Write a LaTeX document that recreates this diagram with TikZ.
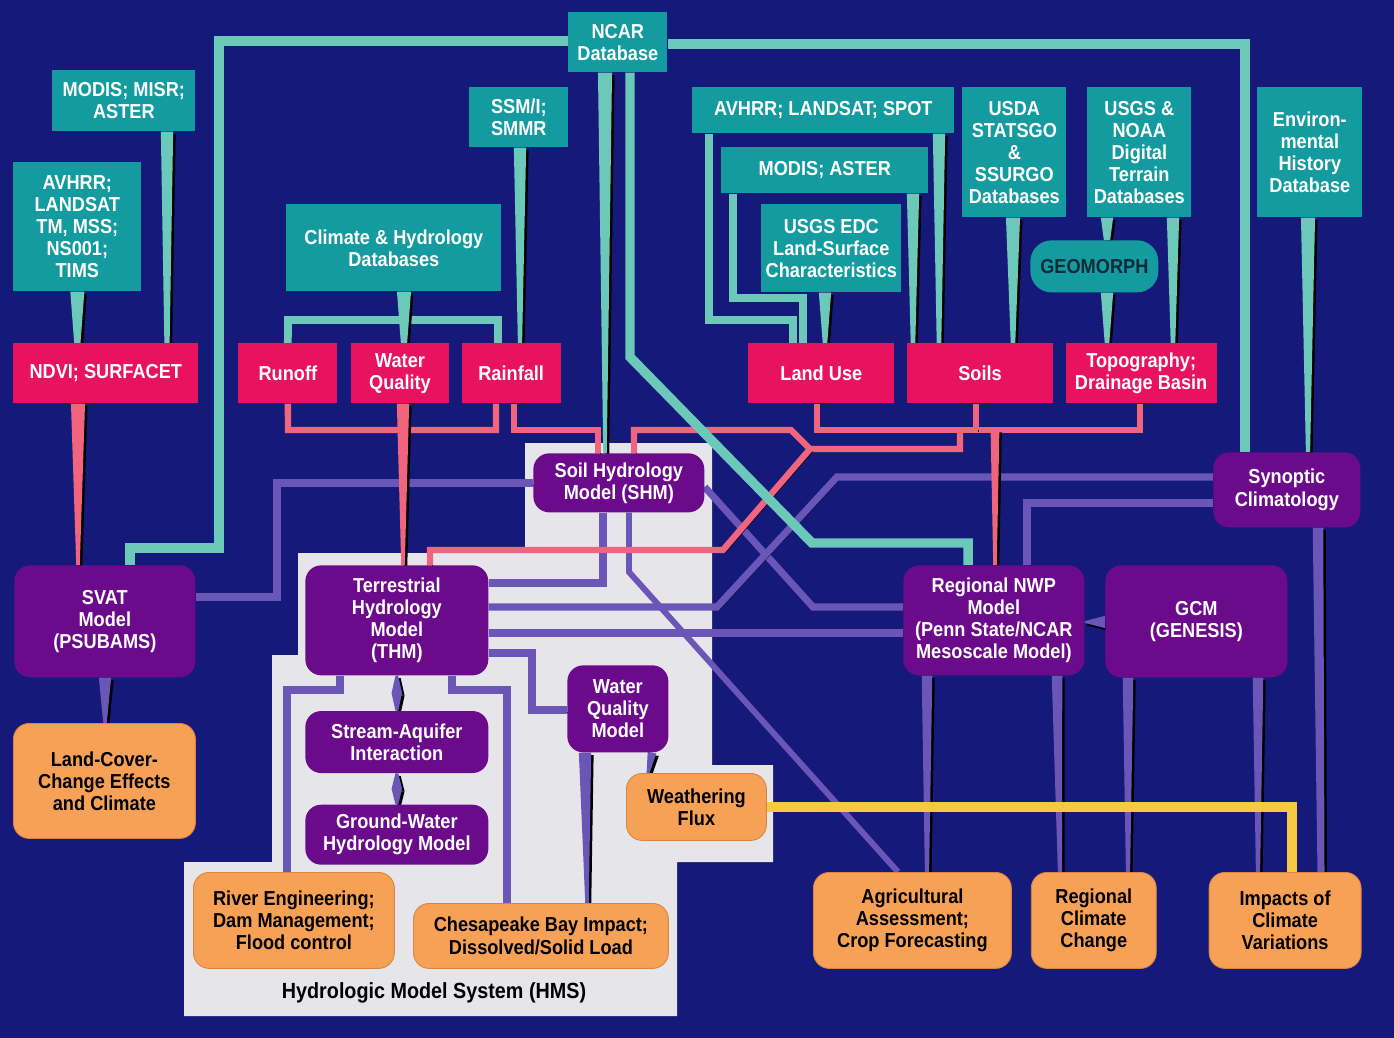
\documentclass[tikz,border=0pt]{standalone}
\usepackage{fontspec}
\setmainfont{Liberation Sans}[FakeStretch=0.9]
\usepackage{tikz}
\usetikzlibrary{
positioning,
calc
}
\definecolor{HMSNavy}{HTML}{151A7A}
\definecolor{HMSTeal}{HTML}{139BA0}
\definecolor{HMSTealLine}{HTML}{6CC8B8}
\definecolor{HMSPink}{HTML}{E8125E}
\definecolor{HMSPinkLine}{HTML}{F0647E}
\definecolor{HMSPurple}{HTML}{6C0A8C}
\definecolor{HMSPurpleLine}{HTML}{6A56B6}
\definecolor{HMSOrange}{HTML}{F7A156}
\definecolor{HMSOrangeEdge}{HTML}{D98440}
\definecolor{HMSYellow}{HTML}{F6C844}
\definecolor{HMSPanel}{HTML}{E6E6EA}
\definecolor{HMSGeoText}{HTML}{0B2A3A}
\newcommand{\hmsfont}{\bfseries\fontsize{11.5}{12.6}\selectfont}
\pgfdeclarelayer{panel}
\pgfdeclarelayer{wires}
\pgfsetlayers{panel,wires,main}
\tikzset{
hmsdata/.style={fill=HMSTeal, text=white, anchor=north west, align=center, inner sep=1pt, font=\hmsfont},
hmsfield/.style={fill=HMSPink, text=white, anchor=north west, align=center, inner sep=1pt,
  minimum height=1.2cm, font=\hmsfont},
hmsmodel/.style={fill=HMSPurple, text=white, anchor=north west, align=center, inner sep=1pt,
  rounded corners=9pt, font=\hmsfont},
hmsapp/.style={fill=HMSOrange, draw=HMSOrangeEdge, line width=0.5pt, text=black, anchor=north west,
  align=center, inner sep=1pt, rounded corners=9pt, font=\hmsfont},
hmswire/.style={line width=4pt, preaction={draw=black, transform canvas={xshift=1.4pt, yshift=-1.4pt}}},
purplewire/.style={hmswire, draw=HMSPurpleLine},
pinkwire/.style={hmswire, draw=HMSPinkLine, line width=3.6pt},
tealwire/.style={hmswire, draw=HMSTealLine, line width=4.4pt},
ncarwire/.style={hmswire, draw=HMSTealLine, line width=5.4pt},
yellowwire/.style={hmswire, draw=HMSYellow, line width=5.4pt}
}
% tapered connector: colour, start, end, half width at start, half width at end
\newcommand{\wirewedge}[5]{%
  \coordinate (wA) at #2;
  \coordinate (wB) at #3;
  \fill[#1, preaction={fill=black, transform canvas={xshift=1.4pt, yshift=-1.4pt}}]
    ($(wA)!#4!90:(wB)$) -- ($(wA)!#4!-90:(wB)$) -- ($(wB)!#5!90:(wA)$) -- ($(wB)!#5!-90:(wA)$) -- cycle;}

\begin{document}
\begin{tikzpicture}[x=0.02cm, y=-0.02cm]
\useasboundingbox (0,0) rectangle (1394,1038);

\node[hmsdata, minimum width=1.98cm, minimum height=1.2cm] (ncar) at (568,12) {NCAR\\Database};
\node[hmsdata, minimum width=2.86cm, minimum height=1.22cm] (modisA) at (52,70) {MODIS; MISR;\\ASTER};
\node[hmsdata, minimum width=2.56cm, minimum height=2.58cm] (avhrrA) at (13,162) {AVHRR;\\LANDSAT\\TM, MSS;\\NS001;\\TIMS};
\node[hmsdata, minimum width=1.98cm, minimum height=1.2cm] (ssmi) at (469,87) {SSM/I;\\SMMR};
\node[hmsdata, minimum width=4.3cm, minimum height=1.74cm] (climhyd) at (286,204) {Climate \& Hydrology\\Databases};
\node[hmsdata, minimum width=5.24cm, minimum height=0.92cm] (avhrrB) at (692,87) {AVHRR; LANDSAT; SPOT};
\node[hmsdata, minimum width=4.14cm, minimum height=0.92cm] (modisB) at (721,147) {MODIS; ASTER};
\node[hmsdata, minimum width=2.8cm, minimum height=1.76cm] (usgsedc) at (761,204) {USGS EDC\\Land-Surface\\Characteristics};
\node[hmsdata, minimum width=2.08cm, minimum height=2.6cm] (usda) at (962,87) {USDA\\STATSGO\\\&\\SSURGO\\Databases};
\node[hmsdata, minimum width=2.08cm, minimum height=2.6cm] (usgsnoaa) at (1087,87) {USGS \&\\NOAA\\Digital\\Terrain\\Databases};
\node[hmsdata, rounded corners=12pt, text=HMSGeoText, minimum width=2.56cm, minimum height=1.04cm] (geomorph) at (1030,240) {GEOMORPH};
\node[hmsdata, minimum width=2.1cm, minimum height=2.6cm] (envhist) at (1257,87) {Environ-\\mental\\History\\Database};

\node[hmsfield, minimum width=3.7cm] (ndvi) at (13,343) {NDVI; SURFACET};
\node[hmsfield, minimum width=1.98cm] (runoff) at (238,343) {Runoff};
\node[hmsfield, minimum width=1.96cm, right=0.26cm of runoff] (waterq) {Water\\Quality};
\node[hmsfield, minimum width=1.98cm, right=0.24cm of waterq] (rainfall) {Rainfall};
\node[hmsfield, minimum width=2.92cm] (landuse) at (748,343) {Land Use};
\node[hmsfield, minimum width=2.92cm, right=0.24cm of landuse] (soils) {Soils};
\node[hmsfield, minimum width=3.02cm, right=0.24cm of soils] (topo) {Topography;\\Drainage Basin};

\node[hmsmodel, minimum width=3.42cm, minimum height=1.18cm] (shm) at (533,453) {Soil Hydrology\\Model (SHM)};
\node[hmsmodel, minimum width=2.94cm, minimum height=1.5cm] (synoptic) at (1213,452) {Synoptic\\Climatology};
\node[hmsmodel, minimum width=3.62cm, minimum height=2.24cm] (svat) at (14,565) {SVAT\\Model\\(PSUBAMS)};
\node[hmsmodel, minimum width=3.66cm, minimum height=2.2cm] (thm) at (305,565) {Terrestrial\\Hydrology\\Model\\(THM)};
\node[hmsmodel, minimum width=3.62cm, minimum height=2.2cm] (nwp) at (903,565) {Regional NWP\\Model\\(Penn State/NCAR\\Mesoscale Model)};
\node[hmsmodel, minimum width=3.64cm, minimum height=2.24cm] (gcm) at (1105,565) {GCM\\(GENESIS)};
\node[hmsmodel, minimum width=3.66cm, minimum height=1.24cm, below=0.7cm of thm] (streamaq) {Stream-Aquifer\\Interaction};
\node[hmsmodel, minimum width=3.66cm, minimum height=1.2cm, below=0.62cm of streamaq] (gwater) {Ground-Water\\Hydrology Model};
\node[hmsmodel, minimum width=2.02cm, minimum height=1.74cm] (wqmodel) at (567,665) {Water\\Quality\\Model};

\node[hmsapp, minimum width=3.64cm, minimum height=2.3cm] (landcover) at (13,723) {Land-Cover-\\Change Effects\\and Climate};
\node[hmsapp, minimum width=2.8cm, minimum height=1.34cm] (weathering) at (626,773) {Weathering\\Flux};
\node[hmsapp, minimum width=4.02cm, minimum height=1.92cm] (rivereng) at (193,872) {River Engineering;\\Dam Management;\\Flood control};
\node[hmsapp, minimum width=5.1cm, minimum height=1.3cm] (chesapeake) at (413,903) {Chesapeake Bay Impact;\\Dissolved/Solid Load};
\node[hmsapp, minimum width=3.96cm, minimum height=1.92cm] (agric) at (813,872) {Agricultural\\Assessment;\\Crop Forecasting};
\node[hmsapp, minimum width=2.5cm, minimum height=1.92cm, right=0.38cm of agric] (regcc) {Regional\\Climate\\Change};
\node[hmsapp, minimum width=3.04cm, minimum height=1.92cm, right=1.04cm of regcc] (impacts) {Impacts of\\Climate\\Variations};

\node[font=\bfseries\fontsize{12.5}{14}\selectfont] (hmslabel) at (434,993) {Hydrologic Model System (HMS)};

\begin{pgfonlayer}{panel}
\fill[HMSNavy] (0,0) rectangle (1394,1038);
\fill[HMSPanel] (525,443) -- (712,443) -- (712,765) -- (773,765) -- (773,862) -- (677,862) -- (677,1016)
  -- (184,1016) -- (184,862) -- (272,862) -- (272,655) -- (298,655) -- (298,553) -- (525,553) -- cycle;
\end{pgfonlayer}

\begin{pgfonlayer}{wires}
\draw[purplewire] (svat.east |- 0,597) -- (277,597) -- (277,483) -- (shm.west |- 0,483);
\draw[purplewire] (shm.south -| 603,0) -- (603,583) -- (thm.east |- 0,583);
\draw[purplewire, line width=3.4pt] (shm.south -| 629,0) -- (629,572) -- (agric.north -| 898,0);
\draw[purplewire] (shm.east |- 0,487) -- (813,607) -- (nwp.west |- 0,607);
\draw[purplewire] (thm.east |- 0,607) -- (717,607) -- (837,477) -- (synoptic.west |- 0,477);
\draw[purplewire] (thm.east |- 0,633) -- (nwp.west |- 0,633);
\draw[purplewire] (thm.east |- 0,653) -- (532,653) -- (532,710) -- (wqmodel.west |- 0,710);
\draw[purplewire] (synoptic.west |- 0,503) -- (1027,503) -- (nwp.north -| 1027,0);
\draw[purplewire] (thm.south -| 340,0) -- (340,690) -- (287,690) -- (rivereng.north -| 287,0);
\draw[purplewire] (thm.south -| 452,0) -- (452,690) -- (507,690) -- (chesapeake.north -| 507,0);
\wirewedge{HMSPurpleLine}{(svat.south -| 105,0)}{(landcover.north -| 105,0)}{3.5pt}{1pt}
\wirewedge{HMSPurpleLine}{(gcm.west |- 0,622)}{(nwp.east |- 0,622)}{3.5pt}{0.5pt}
\wirewedge{HMSPurpleLine}{(thm.south)}{($(thm.south)!0.5!(streamaq.north)$)}{0.8pt}{3pt}
\wirewedge{HMSPurpleLine}{($(thm.south)!0.5!(streamaq.north)$)}{(streamaq.north)}{3pt}{0.8pt}
\wirewedge{HMSPurpleLine}{(streamaq.south)}{($(streamaq.south)!0.5!(gwater.north)$)}{0.8pt}{3pt}
\wirewedge{HMSPurpleLine}{($(streamaq.south)!0.5!(gwater.north)$)}{(gwater.north)}{3pt}{0.8pt}
\wirewedge{HMSPurpleLine}{(wqmodel.south -| 585,0)}{(chesapeake.north -| 587,0)}{3.5pt}{1pt}
\wirewedge{HMSPurpleLine}{(wqmodel.south -| 652,0)}{(weathering.north -| 648,0)}{2.5pt}{0.8pt}
\wirewedge{HMSPurpleLine}{(nwp.south -| 927,0)}{(agric.north -| 927,0)}{3pt}{1.2pt}
\wirewedge{HMSPurpleLine}{(nwp.south -| 1057,0)}{(regcc.north -| 1060,0)}{3pt}{1.2pt}
\wirewedge{HMSPurpleLine}{(gcm.south -| 1128,0)}{(regcc.north -| 1128,0)}{3pt}{1.2pt}
\wirewedge{HMSPurpleLine}{(gcm.south -| 1258,0)}{(impacts.north -| 1258,0)}{3pt}{1.2pt}
\wirewedge{HMSPurpleLine}{(synoptic.south -| 1318,0)}{(impacts.north -| 1321,0)}{3pt}{2pt}

\coordinate (soilbus) at (976,430);
\coordinate (nwpdrop) at (995,430);
\draw[pinkwire] (runoff.south) -- (288,430) -- (496,430) -- (rainfall.south -| 496,0);
\draw[pinkwire] (rainfall.south -| 514,0) -- (514,430) -- (598,430) -- (shm.north -| 598,0);
\draw[pinkwire] (landuse.south -| 817,0) -- (817,430) -- (1140,430) -- (topo.south -| 1140,0);
\draw[pinkwire] (soils.south -| soilbus) -- (soilbus);
\draw[pinkwire] (shm.north -| 634,0) -- (634,430) -- (791,430) -- (810,449) -- (960,449) -- (960,430);
\draw[pinkwire] (thm.north -| 430,0) -- (430,550) -- (723,550) -- (810,449);
\wirewedge{HMSPinkLine}{(ndvi.south -| 78,0)}{(svat.north -| 78,0)}{4pt}{1pt}
\wirewedge{HMSPinkLine}{(waterq.south -| 403,0)}{(thm.north -| 403,0)}{3.5pt}{1pt}
\wirewedge{HMSPinkLine}{(nwpdrop)}{(nwp.north -| nwpdrop)}{2.5pt}{1pt}

\draw[ncarwire] (ncar.west |- 0,41) -- (219,41) -- (219,548) -- (130,548) -- (svat.north -| 130,0);
\draw[ncarwire] (ncar.east |- 0,44) -- (1245,44) -- (synoptic.north -| 1245,0);
\draw[ncarwire] (ncar.south -| 630,0) -- (630,357) -- (812,543) -- (968,543) -- (nwp.north -| 968,0);
\draw[tealwire] (runoff.north) -- (288,320) -- (498,320) -- (rainfall.north -| 498,0);
\draw[tealwire] (avhrrB.south -| 709,0) -- (709,320) -- (793,320) -- (landuse.north -| 793,0);
\draw[tealwire] (modisB.south -| 733,0) -- (733,298) -- (803,298) -- (landuse.north -| 803,0);
\wirewedge{HMSTealLine}{(avhrrA.south)}{(ndvi.north -| avhrrA.south)}{4pt}{1.8pt}
\wirewedge{HMSTealLine}{(modisA.south -| 167,0)}{(ndvi.north -| 167,0)}{3.5pt}{1.5pt}
\wirewedge{HMSTealLine}{(ncar.south -| 605,0)}{(shm.north -| 605,0)}{4pt}{1pt}
\wirewedge{HMSTealLine}{(ssmi.south -| 520,0)}{(rainfall.north -| 520,0)}{3.5pt}{1.2pt}
\wirewedge{HMSTealLine}{(climhyd.south -| 404,0)}{(waterq.north -| 404,0)}{4pt}{1.8pt}
\wirewedge{HMSTealLine}{(usgsedc.south -| 825,0)}{(landuse.north -| 825,0)}{3.5pt}{1.3pt}
\wirewedge{HMSTealLine}{(avhrrB.south -| 939,0)}{(soils.north -| 939,0)}{3.5pt}{1.3pt}
\wirewedge{HMSTealLine}{(modisB.south -| 913,0)}{(soils.north -| 913,0)}{3.5pt}{1.3pt}
\wirewedge{HMSTealLine}{(usda.south -| 1013,0)}{(soils.north -| 1013,0)}{4pt}{1.3pt}
\wirewedge{HMSTealLine}{(usgsnoaa.south -| 1107,0)}{(geomorph.north -| 1107,0)}{3.5pt}{1.8pt}
\wirewedge{HMSTealLine}{(geomorph.south -| 1107,0)}{(topo.north -| 1107,0)}{3.5pt}{1.3pt}
\wirewedge{HMSTealLine}{(usgsnoaa.south -| 1173,0)}{(topo.north -| 1173,0)}{3.5pt}{1.3pt}
\wirewedge{HMSTealLine}{(envhist.south -| 1308,0)}{(synoptic.north -| 1308,0)}{4pt}{1.2pt}

\draw[yellowwire] (weathering.east |- 0,807) -- (1292,807) -- (impacts.north -| 1292,0);
\end{pgfonlayer}
\end{tikzpicture}
\end{document}
